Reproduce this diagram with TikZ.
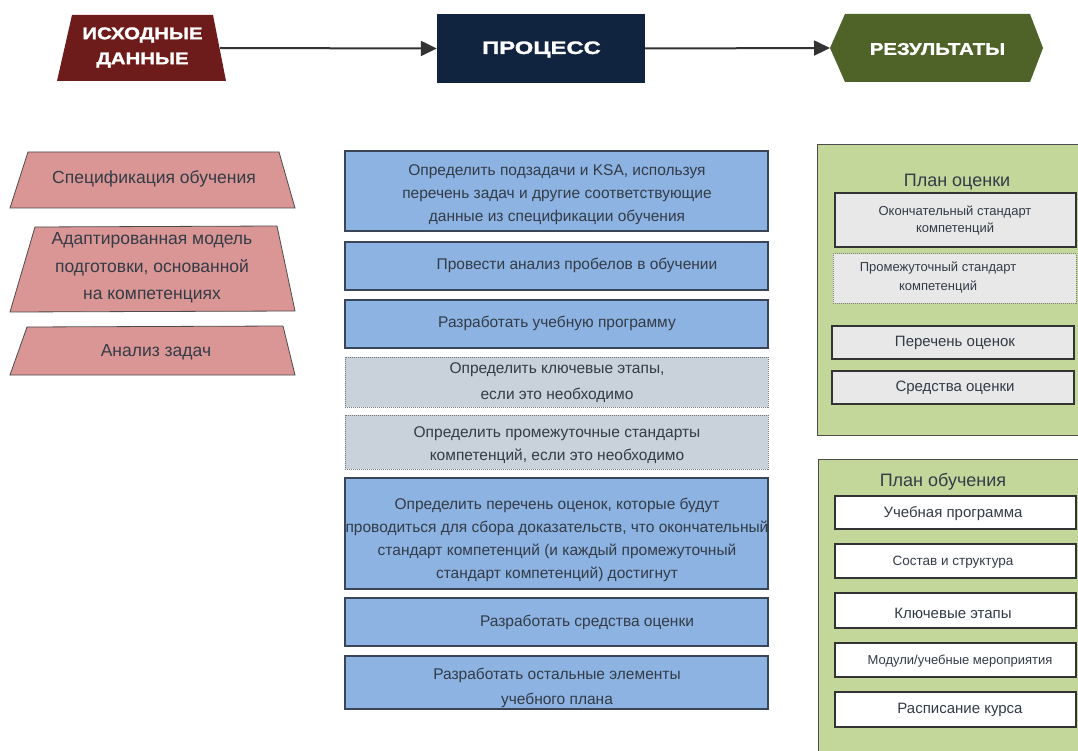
\documentclass[tikz,border=0pt]{standalone}
\usepackage{fontspec}
\setmainfont{Liberation Sans}
\newfontfamily\hdrfont{Liberation Sans}[FakeStretch=1.2,FakeBold=1.5]
\newfontfamily\hdrwidefont{Liberation Sans}[FakeStretch=1.32,FakeBold=1.5]
\usetikzlibrary{arrows.meta}
\definecolor{hdrred}{HTML}{6E1B1B}
\definecolor{hdrnavy}{HTML}{10233F}
\definecolor{hdrolive}{HTML}{4F6228}
\definecolor{pinkfill}{HTML}{DA9694}
\definecolor{bluefill}{HTML}{8DB3E2}
\definecolor{grayfill}{HTML}{C9D1DA}
\definecolor{greenfill}{HTML}{C4D79B}
\definecolor{lightgray}{HTML}{E8E8E8}
\definecolor{txtc}{HTML}{333B47}
\definecolor{bordc}{HTML}{3A4658}
\definecolor{arrc}{HTML}{333333}
\begin{document}
\begin{tikzpicture}[x=1pt,y=-1pt,
  hdr/.style={font=\hdrfont\bfseries\fontsize{17}{25}\selectfont, text=white, align=center, inner sep=0pt},
  arr/.style={draw=arrc, line width=2pt, -{Triangle[length=16pt,width=15pt]}},
  txt/.style={font=\fontsize{15.5}{23}\selectfont, text=txtc, align=center, inner sep=0pt},
  ltxt/.style={font=\fontsize{17.5}{27.5}\selectfont, text=txtc, align=center, inner sep=0pt},
  pinkshape/.style={fill=pinkfill, draw=black!70, line width=0.8pt},
  procbox/.style={draw=bordc, line width=1.2pt, fill=bluefill, minimum width=423pt, inner sep=0pt},
  optbox/.style={draw=black!55, densely dotted, line width=1pt, fill=grayfill, minimum width=423pt, inner sep=0pt},
  panel/.style={draw=black!70, line width=1pt, fill=greenfill},
  inbox/.style={draw=black!80, line width=1.2pt, fill=lightgray, inner sep=0pt},
  inboxdot/.style={draw=black!50, densely dotted, line width=1pt, fill=lightgray, inner sep=0pt},
  wbox/.style={draw=black!80, line width=1.2pt, fill=white, inner sep=0pt, minimum width=241pt},
  ttl/.style={font=\fontsize{18}{22}\selectfont, text=txtc, inner sep=0pt}
]
\useasboundingbox (0,0) rectangle (1078,751);
\clip (0,0) rectangle (1078,751);
\fill[white] (0,0) rectangle (1078,751);

% header
\fill[hdrred] (72,15) -- (213,15) -- (226,81) -- (57,81) -- cycle;
\node[hdr] (ish) at (142.5,47.5) {ИСХОДНЫЕ\\ДАННЫЕ};
\coordinate (ishR) at (220,48);
\node[fill=hdrnavy, minimum width=208pt, minimum height=69pt, inner sep=0pt] (procbg) at (541,48.5) {};
\node[hdr, font=\hdrwidefont\bfseries\fontsize{18}{25}\selectfont] (proc) at (541.5,49.5) {ПРОЦЕСС};
\fill[hdrolive] (830,48) -- (845,14) -- (1030,14) -- (1043,48) -- (1030,82) -- (845,82) -- cycle;
\node[hdr] (res) at (937.5,49) {РЕЗУЛЬТАТЫ};
\coordinate (resL) at (830,48);
\draw[arr] (ishR) -- (procbg.west);
\draw[arr] (procbg.east) -- (resL);

% left column
\draw[pinkshape] (28,152) -- (279,152) -- (295,208) -- (10,208) -- cycle;
\node[ltxt] (spec) at (154,179) {Спецификация обучения};
\draw[pinkshape] (35,227) -- (277,226) -- (295,311) -- (10,312) -- cycle;
\node[ltxt] (adapt) at (152,268) {Адаптированная модель\\подготовки, основанной\\на компетенциях};
\draw[pinkshape] (27,327) -- (283,326) -- (295,375) -- (10,375) -- cycle;
\node[ltxt] (task) at (156,352) {Анализ задач};

% center column
\node[procbox, minimum height=80pt] (p1) at (556.5,191) {};
\node[txt] (p1t) at (557,195) {Определить подзадачи и KSA, используя\\перечень задач и другие соответствующие\\данные из спецификации обучения};
\node[procbox, minimum height=48pt] (p2) at (556.5,266) {};
\node[txt] (p2t) at (577,265) {Провести анализ пробелов в обучении};
\node[procbox, minimum height=48pt] (p3) at (556.5,324) {};
\node[txt] (p3t) at (557,323) {Разработать учебную программу};
\node[optbox, minimum height=50pt] (p4) at (556.5,382) {};
\node[txt, font=\fontsize{15.5}{26}\selectfont] (p4t) at (557,383) {Определить ключевые этапы,\\если это необходимо};
\node[optbox, minimum height=54pt] (p5) at (556.5,442) {};
\node[txt] (p5t) at (557,445.5) {Определить промежуточные стандарты\\компетенций, если это необходимо};
\node[procbox, minimum height=111pt] (p6) at (556.5,533.5) {};
\node[txt] (p6t) at (557,540) {Определить перечень оценок, которые будут\\проводиться для сбора доказательств, что окончательный\\стандарт компетенций (и каждый промежуточный\\стандарт компетенций) достигнут};
\node[procbox, minimum height=48pt] (p7) at (556.5,622) {};
\node[txt] (p7t) at (587,622) {Разработать средства оценки};
\node[procbox, minimum height=53pt] (p8) at (556.5,682.5) {};
\node[txt, font=\fontsize{15.5}{25}\selectfont] (p8t) at (557,687.5) {Разработать остальные элементы\\учебного плана};

% right column: assessment plan
\draw[panel] (817,145) rectangle (1090,435);
\node[ttl] (at1) at (957,182) {План оценки};
\node[inbox, minimum width=241pt, minimum height=54pt] (r1) at (955.5,220) {};
\node[txt, font=\fontsize{13}{17}\selectfont] (r1t) at (955,220.5) {Окончательный стандарт\\компетенций};
\node[inboxdot, minimum width=243pt, minimum height=49pt] (r2) at (954.5,278.5) {};
\node[txt, font=\fontsize{13}{19}\selectfont] (r2t) at (938,277.5) {Промежуточный стандарт\\компетенций};
\node[inbox, minimum width=242pt, minimum height=33pt] (r3) at (953,342.5) {};
\node[txt, font=\fontsize{15}{18}\selectfont] (r3t) at (955,343) {Перечень оценок};
\node[inbox, minimum width=242pt, minimum height=33pt] (r4) at (953,387.5) {};
\node[txt, font=\fontsize{15}{18}\selectfont] (r4t) at (955,388) {Средства оценки};

% right column: training plan
\draw[panel] (818,459) rectangle (1090,760);
\node[ttl] (at2) at (943,482) {План обучения};
\node[wbox, minimum height=33pt] (s1) at (955.5,512.5) {};
\node[txt, font=\fontsize{15}{18}\selectfont] (s1t) at (953,514) {Учебная программа};
\node[wbox, minimum height=34pt] (s2) at (955.5,561) {};
\node[txt, font=\fontsize{13.5}{18}\selectfont] (s2t) at (953,562) {Состав и структура};
\node[wbox, minimum height=35pt] (s3) at (955.5,610.5) {};
\node[txt, font=\fontsize{15}{18}\selectfont] (s3t) at (953,613) {Ключевые этапы};
\node[wbox, minimum height=34pt] (s4) at (955.5,660) {};
\node[txt, font=\fontsize{13}{18}\selectfont] (s4t) at (960,661) {Модули/учебные мероприятия};
\node[wbox, minimum height=35pt] (s5) at (955.5,709.5) {};
\node[txt, font=\fontsize{15}{18}\selectfont] (s5t) at (960,710) {Расписание курса};
\end{tikzpicture}
\end{document}
